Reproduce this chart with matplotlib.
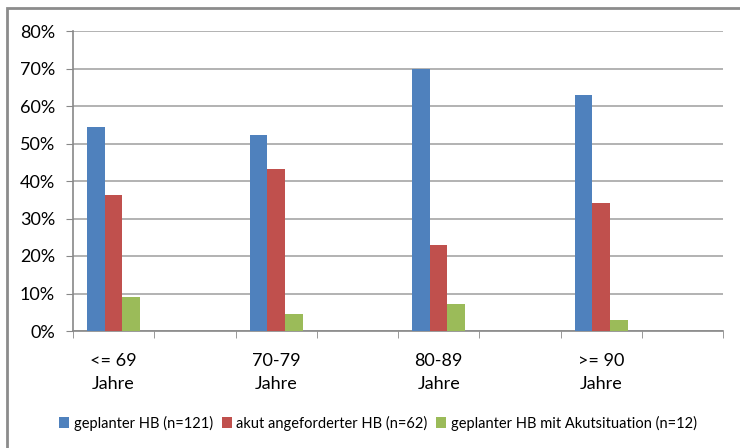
import numpy as np
import matplotlib
matplotlib.use("Agg")
import matplotlib.pyplot as plt
from matplotlib.patches import Rectangle
from matplotlib.ticker import FixedLocator, PercentFormatter

# ==========================================
# DATA
# ==========================================

age_groups = ["<= 69\nJahre", "70-79\nJahre", "80-89\nJahre", ">= 90\nJahre"]

series_names = [
    "geplanter HB (n=121)",
    "akut angeforderter HB (n=62)",
    "geplanter HB mit Akutsituation (n=12)",
]

geplant = [54.5, 52.2, 69.8, 63.0]
akut = [36.3, 43.2, 23.0, 34.2]
geplant_akut = [9.0, 4.6, 7.1, 3.0]

y_ticks = [0, 10, 20, 30, 40, 50, 60, 70, 80]

colors = ["#4F81BD", "#C0504D", "#9BBB59"]

# ==========================================
# FIGURE
# ==========================================

plt.rcParams["font.family"] = ["Lato", "DejaVu Sans"]

W, H = 740, 448
fig = plt.figure(figsize=(W / 100, H / 100), dpi=100)

ax = fig.add_axes([
    73 / W,
    1 - 331 / H,
    (723 - 73) / W,
    (331 - 31) / H
])

# each age group takes two category slots, bars sit in the first one
centers = np.arange(len(age_groups)) * 2 + 0.5
bar_w = 0.218

for i, (vals, c, name) in enumerate(zip([geplant, akut, geplant_akut], colors, series_names)):
    ax.bar(
        centers + (i - 1) * bar_w,
        vals,
        width=bar_w,
        color=c,
        label=name,
        zorder=3
    )

ax.set_xlim(0, len(age_groups) * 2)
ax.set_ylim(0, 80)

ax.set_yticks(y_ticks)
ax.yaxis.set_major_formatter(PercentFormatter(decimals=0))
ax.grid(axis="y", color="#a6a6a6", linewidth=1.2, zorder=0)

ax.set_xticks(centers)
ax.set_xticklabels(age_groups, linespacing=1.55)
ax.xaxis.set_minor_locator(FixedLocator(np.arange(0, len(age_groups) * 2 + 1)))
ax.tick_params(axis="x", which="major", length=0, pad=16, labelsize=13)
ax.tick_params(axis="x", which="minor", length=5, color="#888888")
ax.tick_params(axis="y", length=5, color="#888888", labelsize=13, pad=8)

for s in ["top", "right"]:
    ax.spines[s].set_visible(False)
for s in ["left", "bottom"]:
    ax.spines[s].set_color("#888888")
    ax.spines[s].set_linewidth(1.2)

# chart border like the Excel frame
fig.patches.append(Rectangle(
    (7 / W, -0.1), 1.2, 1 - 8 / H + 0.1,
    transform=fig.transFigure,
    fill=False,
    edgecolor="#8c8c8c",
    linewidth=2
))

fig.legend(
    loc="center",
    bbox_to_anchor=(378 / W, 1 - 423 / H),
    ncol=3,
    frameon=False,
    fontsize=10.5,
    handlelength=0.7,
    handleheight=0.7,
    handletextpad=0.3,
    columnspacing=0.6
)

fig.savefig("out.png", dpi=100)
